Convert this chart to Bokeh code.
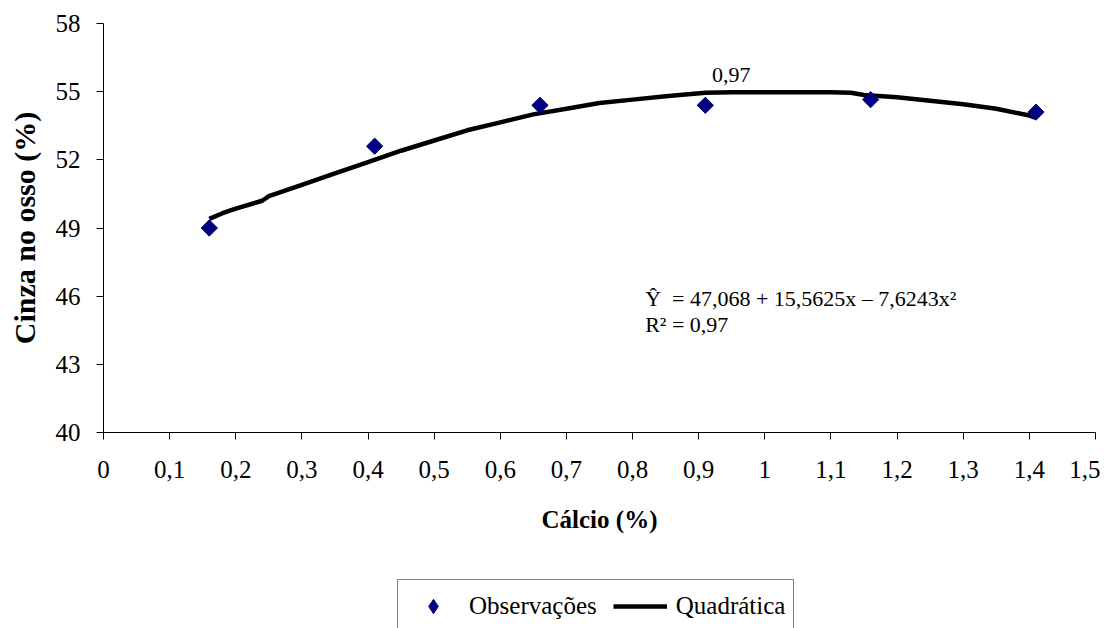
from bokeh.plotting import figure
from bokeh.layouts import column
from bokeh.models import (Range1d, FixedTicker, CustomJSTickFormatter, Legend, LegendItem, Label)
from bokeh.embed import file_html
from bokeh.resources import INLINE

# Observations
obs_x = [0.16, 0.41, 0.66, 0.91, 1.16, 1.41]
obs_y = [49.0, 52.6, 54.4, 54.4, 54.65, 54.1]

# Fitted quadratic curve
curve_x = [0.16, 0.18, 0.20, 0.24, 0.25, 0.30, 0.35, 0.40, 0.45, 0.50, 0.55, 0.60,
           0.65, 0.70, 0.75, 0.80, 0.85, 0.91, 0.95, 1.00, 1.05, 1.10, 1.13,
           1.15, 1.20, 1.25, 1.30, 1.35, 1.40, 1.41]
curve_y = [49.4, 49.65, 49.85, 50.2, 50.4, 50.9, 51.4, 51.9, 52.4, 52.85, 53.3, 53.65,
           54.0, 54.25, 54.5, 54.65, 54.8, 54.95, 54.97, 54.97, 54.97, 54.97, 54.95,
           54.85, 54.75, 54.6, 54.45, 54.25, 53.95, 53.85]

x_ticks = [0, 0.1, 0.2, 0.3, 0.4, 0.5, 0.6, 0.7, 0.8, 0.9, 1.0, 1.1, 1.2, 1.3, 1.4, 1.5]
y_ticks = [40, 43, 46, 49, 52, 55, 58]

series_names = ["Observações", "Quadrática"]

FONT = "Liberation Serif"
NAVY = "#000080"

p = figure(width=1100, height=560, x_range=Range1d(0, 1.5), y_range=Range1d(40, 58),
           output_backend="svg", toolbar_location=None,
           min_border_left=103, min_border_right=5, min_border_top=23, min_border_bottom=128)
p.outline_line_color = None
p.xgrid.visible = False
p.ygrid.visible = False
p.background_fill_color = "white"
p.border_fill_color = "white"

for ax in (p.xaxis[0], p.yaxis[0]):
    ax.axis_line_color = "black"
    ax.axis_line_width = 1
    ax.major_tick_line_color = "black"
    ax.major_tick_out = 7
    ax.major_tick_in = 0
    ax.minor_tick_line_color = None
    ax.major_label_text_font = FONT
    ax.major_label_text_font_size = "25px"
    ax.major_label_text_color = "black"
    ax.axis_label_text_font = FONT
    ax.axis_label_text_font_style = "bold"
    ax.axis_label_text_color = "black"

p.xaxis.ticker = FixedTicker(ticks=x_ticks)
p.yaxis.ticker = FixedTicker(ticks=y_ticks)
p.xaxis.formatter = CustomJSTickFormatter(code="""
const s = (Math.round(tick*10)/10).toString();
return s.replace('.', ',');
""")
p.xaxis.axis_label = "Cálcio (%)"
p.yaxis.axis_label = "Cinza no osso (%)"
p.xaxis.axis_label_text_font_size = "25px"
p.yaxis.axis_label_text_font_size = "30px"
p.xaxis.major_label_standoff = 21
p.yaxis.major_label_standoff = 16
p.xaxis.axis_label_standoff = 25
p.yaxis.axis_label_standoff = 12

p.line(curve_x, curve_y, line_width=4.5, color="black")
p.scatter(obs_x, obs_y, marker="square", angle=0.785398, size=11.5,
          fill_color=NAVY, line_color=NAVY)

p.add_layout(Label(x=0.92, y=55.75, text="0,97", text_font=FONT, text_font_size="22px",
                   text_color="black", text_baseline="alphabetic"))
p.add_layout(Label(x=0.819, y=45.89, text="Ŷ\u00a0 = 47,068 + 15,5625x – 7,6243x²", text_font=FONT,
                   text_font_size="22px", text_color="black", text_baseline="alphabetic"))
p.add_layout(Label(x=0.819, y=44.76, text="R² = 0,97", text_font=FONT,
                   text_font_size="22px", text_color="black", text_baseline="alphabetic"))

# Legend strip below the chart (its renderers hold the same data, outside this strip's range)
lg = figure(width=1100, height=68, x_range=Range1d(0, 1), y_range=Range1d(0, 1),
            x_axis_type=None, y_axis_type=None, output_backend="svg", toolbar_location=None,
            min_border_left=0, min_border_right=0, min_border_top=0, min_border_bottom=0)
lg.outline_line_color = None
lg.background_fill_color = "white"
lg.border_fill_color = "white"
k_sc = lg.scatter(obs_x, obs_y, marker="diamond", size=19, fill_color=NAVY, line_color=NAVY)
k_ln = lg.line(curve_x, curve_y, line_width=4.5, color="black")

legend = Legend(items=[LegendItem(label=series_names[0], renderers=[k_sc]),
                       LegendItem(label=series_names[1], renderers=[k_ln])],
                orientation="horizontal", location=(294, -5),
                border_line_color="black", border_line_width=1,
                label_text_font=FONT, label_text_font_size="25px", label_text_color="black",
                glyph_width=54, glyph_height=36, label_standoff=9, spacing=16,
                padding=8, margin=0, background_fill_color="white", background_fill_alpha=1)
lg.add_layout(legend)

layout = column(p, lg, spacing=0)
open("out.html", "w").write(file_html(layout, INLINE))
